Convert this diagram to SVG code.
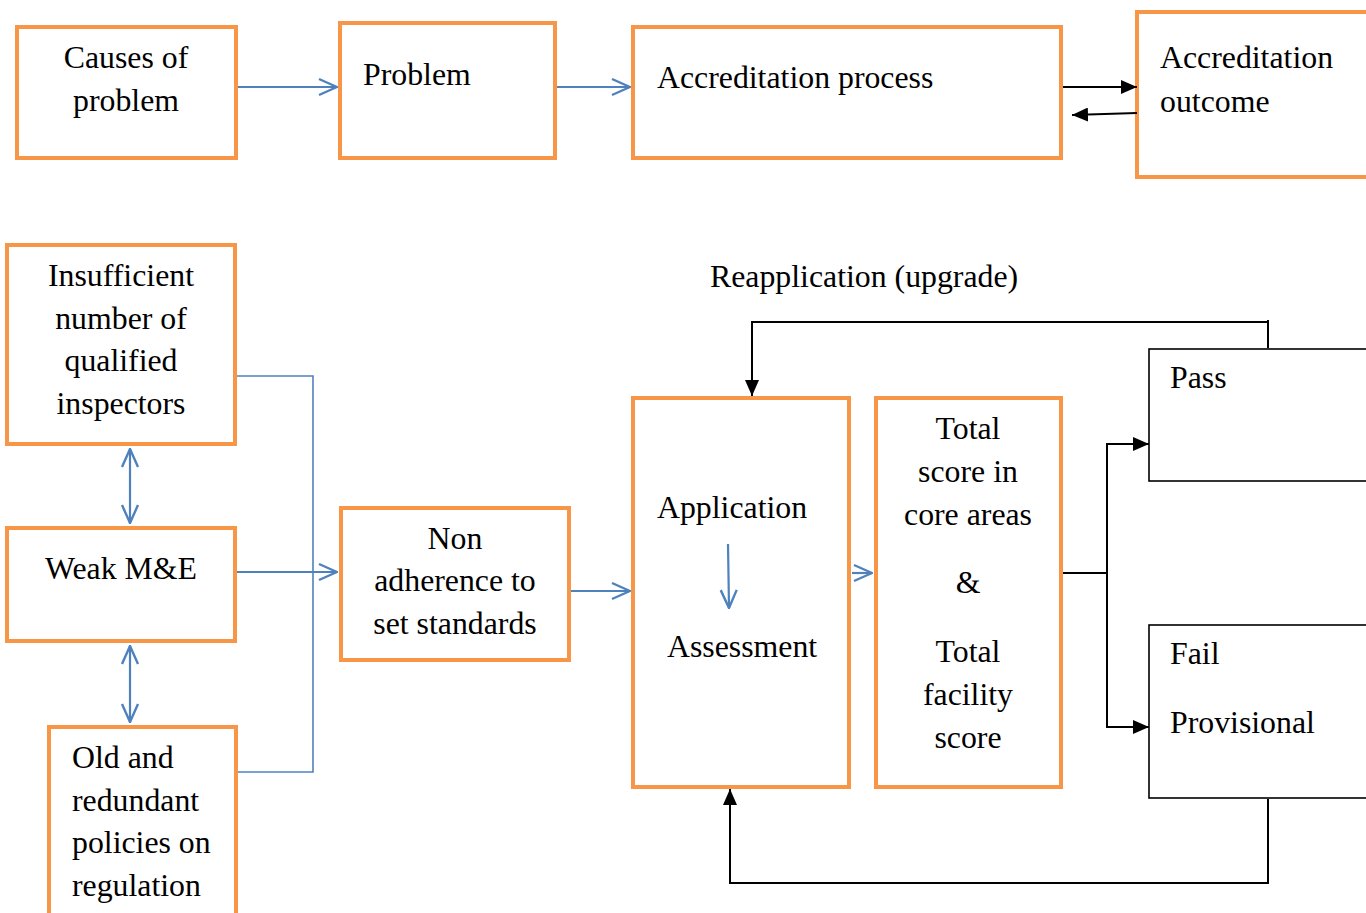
<svg xmlns="http://www.w3.org/2000/svg" width="1366" height="913" viewBox="0 0 1366 913">
<style>
.ob{fill:#fff;stroke:#F79646;stroke-width:4}
.kb{fill:#fff;stroke:#000;stroke-width:1.6}
text{font-family:"Liberation Serif","Times New Roman",serif;font-size:31.8px;fill:#000}
.c{text-anchor:middle}
.bl{fill:none;stroke:#4F81BD;stroke-width:2.2}
.bt{fill:none;stroke:#4F81BD;stroke-width:1.6}
.k{fill:none;stroke:#000;stroke-width:2}
</style>
<defs>
<marker id="chev" viewBox="0 0 20 20" refX="19" refY="10" markerWidth="20" markerHeight="20" markerUnits="userSpaceOnUse" orient="auto-start-reverse">
<path d="M1,2 L19,10 L1,18" fill="none" stroke="#4F81BD" stroke-width="2.4"/>
</marker>
<marker id="tri" viewBox="0 0 16 14" refX="16" refY="7" markerWidth="16" markerHeight="14" markerUnits="userSpaceOnUse" orient="auto">
<path d="M0,0 L16,7 L0,14 Z" fill="#000"/>
</marker>
</defs>
<rect width="1366" height="913" fill="#fff"/>

<g id="causes"><rect class="ob" x="17" y="27" width="219" height="131"/>
<text class="c" x="126" y="68">Causes of</text><text class="c" x="126" y="111">problem</text></g>
<g id="problem"><rect class="ob" x="340" y="23" width="215" height="135"/>
<text x="363" y="85">Problem</text></g>
<g id="process"><rect class="ob" x="633" y="27" width="428" height="131"/>
<text x="657" y="88">Accreditation process</text></g>
<g id="outcome"><rect class="ob" x="1137" y="12" width="240" height="165"/>
<text x="1160" y="68">Accreditation</text><text x="1160" y="112">outcome</text></g>

<g id="reapp"><text x="710" y="287">Reapplication (upgrade)</text></g>

<g id="insufficient"><rect class="ob" x="7" y="245" width="228" height="199"/>
<text class="c" x="121" y="286">Insufficient</text><text class="c" x="121" y="329">number of</text>
<text class="c" x="121" y="371">qualified</text><text class="c" x="121" y="414">inspectors</text></g>
<g id="weak"><rect class="ob" x="7" y="528" width="228" height="113"/>
<text class="c" x="121" y="579">Weak M&amp;E</text></g>
<g id="old"><rect class="ob" x="49" y="727" width="187" height="200"/>
<text x="72" y="768">Old and</text><text x="72" y="811">redundant</text>
<text x="72" y="853">policies on</text><text x="72" y="896">regulation</text></g>
<g id="nonadherence"><rect class="ob" x="341" y="508" width="228" height="152"/>
<text class="c" x="455" y="549">Non</text><text class="c" x="455" y="591">adherence to</text><text class="c" x="455" y="634">set standards</text></g>
<g id="application"><rect class="ob" x="633" y="398" width="216" height="389"/>
<text x="657" y="518">Application</text><text x="667" y="657">Assessment</text>
<line class="bl" x1="728" y1="544" x2="729" y2="608" marker-end="url(#chev)"/></g>
<g id="total"><rect class="ob" x="876" y="398" width="185" height="389"/>
<text class="c" x="968" y="439">Total</text><text class="c" x="968" y="482">score in</text><text class="c" x="968" y="525">core areas</text>
<text class="c" x="968" y="593">&amp;</text>
<text class="c" x="968" y="662">Total</text><text class="c" x="968" y="705">facility</text><text class="c" x="968" y="748">score</text></g>
<g id="pass"><rect class="kb" x="1149" y="349" width="230" height="132"/>
<text x="1170" y="388">Pass</text></g>
<g id="fail"><rect class="kb" x="1149" y="625" width="230" height="173"/>
<text x="1170" y="664">Fail</text><text x="1170" y="733">Provisional</text></g>

<g id="connectors">
<line class="bl" x1="238" y1="87" x2="337" y2="87" marker-end="url(#chev)"/>
<line class="bl" x1="557" y1="87" x2="630" y2="87" marker-end="url(#chev)"/>
<line class="k" x1="1063" y1="87" x2="1137" y2="87" marker-end="url(#tri)"/>
<line class="k" x1="1137" y1="113" x2="1072" y2="115" marker-end="url(#tri)"/>
<polyline class="bt" points="237,376 313,376 313,772 238,772"/>
<line class="bl" x1="237" y1="572" x2="337" y2="572" marker-end="url(#chev)"/>
<line class="bl" x1="130" y1="449" x2="130" y2="523" marker-start="url(#chev)" marker-end="url(#chev)"/>
<line class="bl" x1="130" y1="646" x2="130" y2="722" marker-start="url(#chev)" marker-end="url(#chev)"/>
<line class="bl" x1="571" y1="591" x2="630" y2="591" marker-end="url(#chev)"/>
<line class="bl" x1="852" y1="573" x2="872" y2="573" marker-end="url(#chev)"/>
<polyline class="k" points="1063,573 1107,573"/>
<polyline class="k" points="1149,444 1107,444 1107,727 1149,727"/>
<line class="k" x1="1107" y1="444" x2="1149" y2="444" marker-end="url(#tri)"/>
<line class="k" x1="1107" y1="727" x2="1149" y2="727" marker-end="url(#tri)"/>
<line class="k" x1="1268" y1="320" x2="1268" y2="348"/>
<polyline class="k" points="1268,322 752,322 752,396" marker-end="url(#tri)"/>
<polyline class="k" points="1268,799 1268,883 730,883 730,789" marker-end="url(#tri)"/>
</g>
</svg>
